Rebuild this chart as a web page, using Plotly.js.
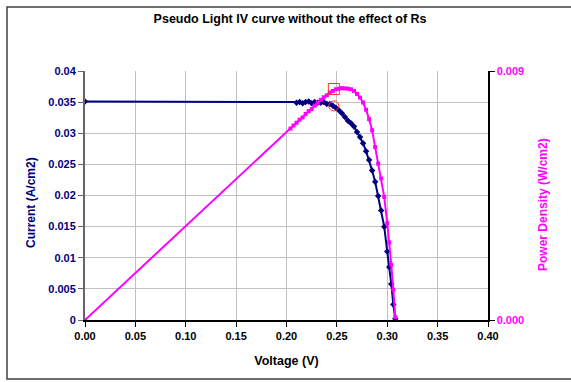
<!DOCTYPE html>
<html>
<head>
<meta charset="utf-8">
<script src="https://cdn.plot.ly/plotly-3.0.1.min.js"></script>
<style>html,body{margin:0;padding:0;background:#fff;}#chart{width:571px;height:382px;}</style>
</head>
<body>
<div id="chart"></div>
<script>
// Current (A/cm2) vs voltage (V)
const voltageI = [0, 0.210, 0.213, 0.216, 0.219, 0.222, 0.225, 0.228, 0.231, 0.234, 0.237, 0.240, 0.243,
  0.246, 0.249, 0.252, 0.255, 0.258, 0.261, 0.264, 0.267, 0.270, 0.273, 0.276, 0.279, 0.282, 0.285,
  0.288, 0.291, 0.294, 0.297, 0.300, 0.302, 0.304, 0.306, 0.308];
const current = [0.0351, 0.0349, 0.0350, 0.0348, 0.0350, 0.0351, 0.0348, 0.0350, 0.0349, 0.0349, 0.0350, 0.0347, 0.0347,
  0.0344, 0.0341, 0.0337, 0.0332, 0.0326, 0.0320, 0.0316, 0.0311, 0.0302, 0.0294, 0.0284, 0.0271, 0.0257, 0.0240,
  0.0222, 0.0199, 0.0176, 0.0150, 0.0110, 0.0085, 0.0058, 0.0025, 0.0002];

// Power density (W/cm2) vs voltage (V)
const voltageP = [0, 0.204, 0.207, 0.210, 0.213, 0.216, 0.219, 0.222, 0.225, 0.228, 0.231, 0.234, 0.237, 0.240,
  0.243, 0.246, 0.249, 0.252, 0.255, 0.258, 0.261, 0.264, 0.267, 0.270, 0.273, 0.276, 0.279, 0.282, 0.285,
  0.288, 0.291, 0.294, 0.297, 0.300, 0.302, 0.304, 0.306, 0.308];
const power = [0, 0.00692, 0.00703, 0.00713, 0.00724, 0.00732, 0.00745, 0.00755, 0.00762, 0.00775, 0.00785, 0.00796, 0.00805, 0.00812,
  0.00822, 0.00828, 0.00834, 0.00836, 0.00838, 0.00837, 0.00836, 0.00834, 0.00828, 0.00817, 0.00804, 0.00786, 0.00760, 0.00726, 0.00686,
  0.00625, 0.00565, 0.00512, 0.00445, 0.00350, 0.00280, 0.00200, 0.00110, 0.00010];

// Maximum power point
const mppVoltage = [0.247];
const mppPower = [0.00835];
const mppCurrent = [0.0344];

const xTicks = [0, 0.05, 0.10, 0.15, 0.20, 0.25, 0.30, 0.35, 0.40];
const yTicks = [0, 0.005, 0.01, 0.015, 0.02, 0.025, 0.03, 0.035, 0.04];
const y2Ticks = [0, 0.009];
const y2TickText = ['0.000', '0.009'];

const NAVY = '#000080', MAG = '#FF00FF', FONT = 'Arial, "Liberation Sans", sans-serif';

const traces = [
  {x: voltageI, y: current, type: 'scatter', mode: 'lines+markers', yaxis: 'y',
   line: {color: NAVY, width: 2}, marker: {symbol: 'diamond', size: 5, color: NAVY}, name: 'Current'},
  {x: voltageP, y: power, type: 'scatter', mode: 'lines+markers', yaxis: 'y2',
   line: {color: MAG, width: 2}, marker: {symbol: 'square', size: 4, color: MAG}, name: 'Power'},
  {x: mppVoltage, y: mppPower, type: 'scatter', mode: 'markers', yaxis: 'y2', cliponaxis: false,
   marker: {symbol: 'square-open', size: 11, color: '#FF3030', line: {width: 1}}, name: 'Pmax'},
  {x: mppVoltage, y: mppCurrent, type: 'scatter', mode: 'markers', yaxis: 'y', cliponaxis: false,
   marker: {symbol: 'circle-open', size: 10, color: '#FF3030', line: {width: 1}}, name: 'Imp'}
];

const layout = {
  width: 571, height: 382,
  margin: {l: 85, r: 83, t: 71, b: 62},
  paper_bgcolor: '#fff', plot_bgcolor: '#fff',
  showlegend: false,
  font: {family: FONT, size: 11},
  title: {text: '<b>Pseudo Light IV curve without the effect of Rs</b>', font: {size: 12.5, color: '#000'},
          x: 0.508, xanchor: 'center', y: 0.952, yanchor: 'middle'},
  xaxis: {range: [0, 0.4], tickvals: xTicks, tickformat: '.2f', showgrid: true, gridcolor: '#c0c0c0', gridwidth: 1,
          zeroline: false, showline: true, linecolor: '#000', linewidth: 1.5, ticks: 'outside', ticklen: 5, tickcolor: '#000',
          tickfont: {color: '#000', size: 11, weight: 'bold'},
          title: {text: '<b>Voltage (V)</b>', font: {color: '#000', size: 12.5}, standoff: 15}},
  yaxis: {range: [0, 0.04], tickvals: yTicks, showgrid: true, gridcolor: '#c0c0c0', gridwidth: 1,
          zeroline: false, showline: true, linecolor: '#666', linewidth: 2, ticks: 'outside', ticklen: 5, tickcolor: '#666',
          tickfont: {color: NAVY, size: 11, weight: 'bold'}},
  yaxis2: {range: [0, 0.009], overlaying: 'y', side: 'right', tickvals: y2Ticks, ticktext: y2TickText,
           showgrid: false, zeroline: false, showline: true, linecolor: '#000', linewidth: 1.5,
           ticks: 'outside', ticklen: 5, tickcolor: '#000',
           tickfont: {color: MAG, size: 11, weight: 'bold'}},
  annotations: [
    {text: '<b>Current (A/cm2)</b>', xref: 'paper', yref: 'paper', x: (31 - 85) / 403, y: (320 - 203) / 249,
     xanchor: 'center', yanchor: 'middle', textangle: -90, showarrow: false, font: {color: NAVY, size: 12}},
    {text: '<b>Power Density (W/cm2)</b>', xref: 'paper', yref: 'paper', x: (543 - 85) / 403, y: (320 - 205) / 249,
     xanchor: 'center', yanchor: 'middle', textangle: -90, showarrow: false, font: {color: MAG, size: 12}}
  ],
  shapes: [
    {type: 'rect', xref: 'paper', yref: 'paper', x0: (7 - 85) / 403, x1: (575 - 85) / 403,
     y0: (320 - 379) / 249, y1: (320 - 7) / 249, line: {color: '#404040', width: 1.5}}
  ]
};

Plotly.newPlot('chart', traces, layout, {staticPlot: true, displayModeBar: false});
</script>
</body>
</html>
